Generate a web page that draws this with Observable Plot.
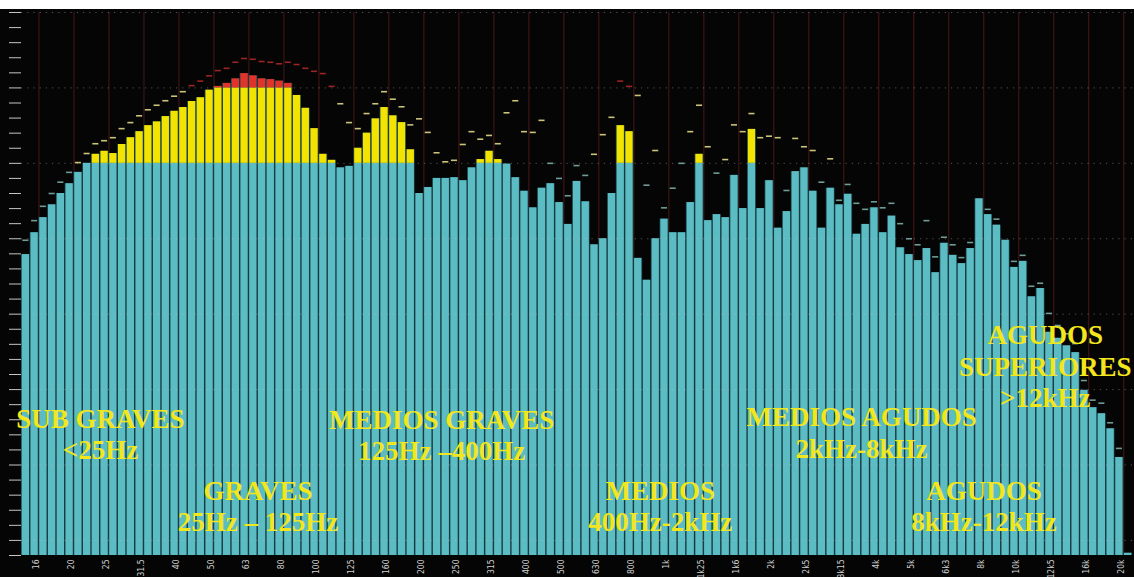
<!DOCTYPE html>
<html><head><meta charset="utf-8">
<script src="https://cdn.jsdelivr.net/npm/d3@7"></script>
<script src="https://cdn.jsdelivr.net/npm/@observablehq/plot@0.6"></script>
<style>
html,body{margin:0;padding:0;background:#fff;}
#chart{padding-top:9px;width:1134px;}
#chart svg{display:block;}
</style></head><body><div id="chart"></div>
<script>
// Level per 1/12-octave band (dB)
const values = [
-32.1, -29.2, -27.2, -25.5, -24.0, -22.7, -21.2, -20.0, -18.8, -18.4,
-18.7, -17.5, -16.6, -15.8, -15.0, -14.5, -13.8, -13.1, -12.6, -11.8,
-11.3, -10.3, -9.8, -9.4, -8.8, -8.1, -8.4, -8.8, -8.9, -9.1,
-9.4, -11.0, -12.7, -15.4, -18.8, -19.6, -20.6, -20.4, -18.0, -16.0,
-14.1, -12.6, -13.7, -14.6, -18.2, -24.0, -23.2, -22.0, -22.0, -21.9,
-22.3, -20.6, -19.5, -18.4, -19.5, -20.1, -21.9, -23.7, -25.9, -23.3,
-22.7, -25.2, -28.1, -22.4, -25.1, -30.8, -30.0, -24.0, -15.0, -15.8,
-32.6, -35.5, -30.0, -27.4, -29.2, -29.2, -25.2, -18.8, -27.6, -26.8,
-27.2, -21.6, -26.0, -15.5, -26.0, -22.3, -28.6, -26.4, -21.1, -20.6,
-23.7, -28.6, -23.3, -25.5, -24.1, -29.4, -28.1, -25.9, -29.2, -27.0,
-31.2, -32.1, -32.9, -31.3, -34.5, -30.6, -32.2, -33.3, -31.3, -24.7,
-26.8, -28.2, -30.2, -33.8, -33.0, -37.7, -36.6, -42.4, -43.2, -44.2,
-45.1, -50.1, -52.4, -53.2, -55.2, -59.0, -71.7
];
// Peak-hold level per band (dB)
const peaks = [
-30.2, -27.6, -25.7, -24.0, -22.5, -21.2, -19.9, -18.7, -17.4, -17.0,
-16.6, -15.4, -14.6, -13.7, -12.9, -12.3, -11.7, -11.1, -10.5, -9.7,
-9.1, -8.4, -7.7, -7.4, -6.6, -6.1, -6.2, -6.5, -6.6, -6.8,
-6.6, -6.9, -7.4, -7.8, -8.1, -9.8, -12.1, -14.6, -15.4, -13.4,
-12.1, -10.5, -11.5, -12.5, -14.9, -14.1, -15.9, -18.6, -19.8, -19.6,
-17.5, -15.8, -16.8, -16.3, -17.4, -13.3, -11.7, -15.8, -15.9, -14.3,
-20.0, -22.0, -24.3, -20.3, -21.6, -18.8, -16.2, -13.9, -9.1, -9.8,
-11.0, -22.9, -18.3, -25.9, -23.3, -20.0, -15.8, -12.3, -17.8, -21.3,
-19.5, -14.9, -15.8, -13.4, -16.6, -16.4, -16.6, -23.6, -16.7, -17.8,
-18.3, -22.5, -19.4, -24.9, -22.8, -25.3, -26.1, -25.1, -25.9, -25.3,
-28.0, -30.0, -30.8, -27.6, -32.4, -29.8, -30.8, -32.5, -30.5, -24.7,
-26.1, -27.4, -30.2, -33.0, -32.2, -36.3, -35.9, -39.9, -41.5, -42.6,
-43.9, -48.8, -51.4, -51.8, -54.4, -57.8, null
];
// 1/3-octave tick labels (every 4th band boundary, starting at band 2)
const freqLabels = ["16","20","25","31.5","40","50","63","80","100","125","160","200","250","315","400","500","630","800","1k","1k25","1k6","2k","2k5","3k15","4k","5k","6k3","8k","10k","12k5","16k","20k"];
const firstLabelBand = 2, bandsPerLabel = 4;
const thresholds = [-20, -10];
const floorDb = -72;

const annoText = ["SUB GRAVES\n<25Hz", "GRAVES\n25Hz – 125Hz", "MEDIOS GRAVES\n125Hz –400Hz", "MEDIOS\n400Hz-2kHz", "MEDIOS AGUDOS\n2kHz-8kHz", "AGUDOS\n8kHz-12kHz", "AGUDOS\nSUPERIORES\n>12kHz"];
const annoBand = [9, 27, 48, 73, 96, 110, 117];
const annoDb = [-55.9, -65.4, -56.0, -65.4, -55.7, -65.4, -46.9];
const annoDx = [-1, -4, 2, 1, 0, 0, -2];

const colLow = "#5bbcc4", colMid = "#f2e300", colHigh = "#e2332a";

const bars = values.map((v, i) => ({i, v}));
const segs = [];
for (const {i, v} of bars) {
  segs.push({i, y1: floorDb, y2: Math.min(v, thresholds[0]), c: colLow});
  if (v > thresholds[0]) segs.push({i, y1: thresholds[0], y2: Math.min(v, thresholds[1]), c: colMid});
  if (v > thresholds[1]) segs.push({i, y1: thresholds[1], y2: v, c: colHigh});
}
const peakData = peaks.map((p, i) => ({i, p, v: values[i]})).filter(d => d.p != null && d.p > d.v + 0.3);
const peakColor = d => d.p > thresholds[1] ? "#9c2424" : d.p > thresholds[0] ? "#cbc37a" : "#6f9c97";
const ticks = freqLabels.map((label, k) => ({i: firstLabelBand + k * bandsPerLabel, label}));
const annotations = annoText.map((t, k) => ({t, i: annoBand[k], db: annoDb[k], dx: annoDx[k]}));

const W = 1134, H = 568, mL = 21, mR = 2;
const step = (W - mL - mR) / values.length;

const chart = Plot.plot({
  width: W, height: H,
  marginLeft: mL, marginRight: mR, marginTop: 3, marginBottom: 22,
  style: {background: "#050505", overflow: "visible"},
  x: {type: "band", domain: d3.range(values.length), paddingInner: 0.17, paddingOuter: 0.085, axis: null},
  y: {domain: [floorDb, 0], axis: null},
  color: {type: "identity"},
  marks: [
    Plot.ruleX(ticks, {x: "i", dx: -step / 2, stroke: "#4a1818", strokeWidth: 1}),
    Plot.barY(bars, {x: "i", y1: floorDb, y2: "v", fill: "#1d474c", insetLeft: -0.8, insetRight: -0.8}),
    Plot.barY(segs, {x: "i", y1: "y1", y2: "y2", fill: "c"}),
    Plot.ruleY(d3.range(0, floorDb, -10), {stroke: "#c8c8c8", strokeOpacity: 0.4, strokeDasharray: "1.2,5"}),
    Plot.tickY(peakData, {x: "i", y: "p", stroke: peakColor, strokeWidth: 1.6, insetLeft: 0.6, insetRight: 0.6}),
    Plot.axisY({ticks: d3.range(floorDb, 1, 2), tickSize: 12, tickPadding: 0, tickFormat: () => "", stroke: "#c4c4c4", label: null}),
    Plot.text(ticks, {x: "i", frameAnchor: "bottom", dx: -step / 2, dy: 4, rotate: -90, textAnchor: "end", text: "label", fill: "#d0d0d0", fontSize: 8.5, fontFamily: "'Liberation Sans Narrow', 'DejaVu Sans Condensed', sans-serif"}),
    Plot.text(annotations, {x: "i", y: "db", dx: "dx", text: "t", fill: "#f2e61c", fontSize: 27, fontWeight: "bold", fontFamily: "'Liberation Serif', 'DejaVu Serif', serif", lineHeight: 1.16, textAnchor: "middle"})
  ]
});
document.getElementById("chart").append(chart);
</script></body></html>
